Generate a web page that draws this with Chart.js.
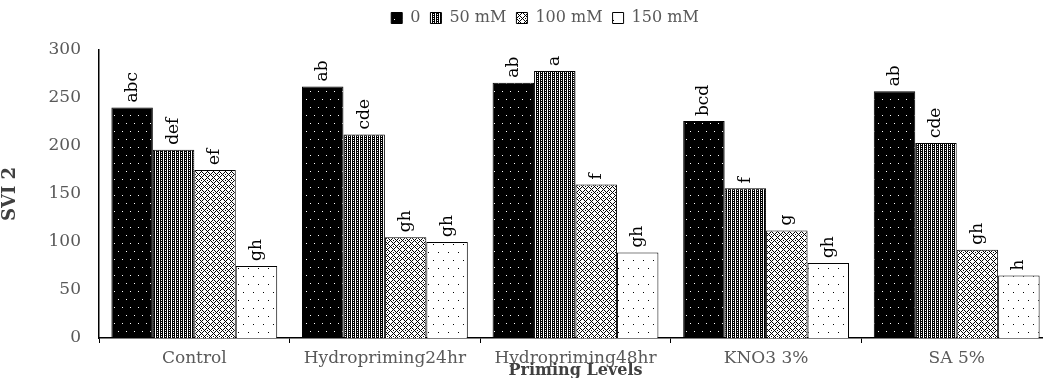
<!DOCTYPE html>
<html>
<head>
<meta charset="utf-8">
<script src="https://cdn.jsdelivr.net/npm/chart.js@4"></script>
<style>
  html, body { margin: 0; padding: 0; background: #fff; }
  #wrap { width: 1043px; height: 378px; overflow: hidden; }
</style>
</head>
<body>
<div id="wrap"><canvas id="c" width="1052" height="378"></canvas></div>
<script>
/// Categories and series
const categories = ["Control", "Hydropriming24hr", "Hydropriming48hr", "KNO3 3%", "SA 5%"];
const seriesNames = ["0", "50 mM", "100 mM", "150 mM"];
const s0   = [240, 262, 266, 226, 257];
const s50  = [196, 212, 278, 156, 203];
const s100 = [175, 105, 160, 112, 92];
const s150 = [75, 100, 89, 78, 65];
/// Significance letters per series
const l0   = ["abc", "ab", "ab", "bcd", "ab"];
const l50  = ["def", "cde", "a", "f", "cde"];
const l100 = ["ef", "gh", "f", "g", "gh"];
const l150 = ["gh", "gh", "gh", "gh", "h"];
const yTicks = [0, 50, 100, 150, 200, 250, 300];

const SERIF = "'DejaVu Serif', 'Liberation Serif', serif";
const GREY = "#595959";

// ── Fill patterns ───────────────────────────────────────────────────

function makePattern(w, h, draw) {
  const c = document.createElement("canvas");
  c.width = w; c.height = h;
  const g = c.getContext("2d");
  draw(g);
  return g.createPattern(c, "repeat");
}

/// Black with white dots
const patDark = makePattern(8, 16, g => {
  g.fillStyle = "#000"; g.fillRect(0, 0, 8, 16);
  g.fillStyle = "#fff";
  g.fillRect(2, 3, 1, 1);
  g.fillRect(6, 11, 1, 1);
});
/// Dense vertical stripes / grid
const patStripe = makePattern(4, 2, g => {
  g.fillStyle = "#fff"; g.fillRect(0, 0, 4, 2);
  g.fillStyle = "#000";
  g.fillRect(0, 0, 1, 2);
  g.fillRect(2, 0, 1, 2);
  g.fillRect(1, 1, 1, 1);
});
/// Crosshatch diamonds
const patCross = makePattern(6, 6, g => {
  g.fillStyle = "#fff"; g.fillRect(0, 0, 6, 6);
  g.fillStyle = "#000";
  g.fillRect(0, 0, 1, 1); g.fillRect(1, 1, 1, 1); g.fillRect(2, 2, 1, 1);
  g.fillRect(3, 3, 1, 1); g.fillRect(4, 2, 1, 1); g.fillRect(5, 1, 1, 1);
  g.fillRect(4, 4, 1, 1); g.fillRect(5, 5, 1, 1); g.fillRect(2, 4, 1, 1); g.fillRect(1, 5, 1, 1);
  g.fillRect(3, 0, 1, 1);
});
/// White with black dots
const patLight = makePattern(10, 16, g => {
  g.fillStyle = "#fff"; g.fillRect(0, 0, 10, 16);
  g.fillStyle = "#000";
  g.fillRect(3, 4, 1, 1);
  g.fillRect(8, 12, 1, 1);
});

function ds(label, data, fill, letters) {
  return {
    label, data, letters,
    backgroundColor: fill,
    borderColor: "#000",
    borderWidth: 1,
    borderSkipped: "bottom",
    categoryPercentage: 0.87,
    barPercentage: 1.0
  };
}

// ── Plugins ─────────────────────────────────────────────────────────

/// Rotated significance letters above each bar
const letterPlugin = {
  id: "letters",
  afterDatasetsDraw(chart) {
    const ctx = chart.ctx;
    ctx.save();
    ctx.font = "17px " + SERIF;
    ctx.fillStyle = "#000";
    ctx.textAlign = "left";
    ctx.textBaseline = "middle";
    chart.data.datasets.forEach((d, di) => {
      chart.getDatasetMeta(di).data.forEach((bar, i) => {
        ctx.save();
        ctx.translate(bar.x, bar.y - 5);
        ctx.rotate(-Math.PI / 2);
        ctx.fillText(d.letters[i], 0, 0);
        ctx.restore();
      });
    });
    ctx.restore();
  }
};

/// Fixed legend height, and nudge the legend right to sit where the original does
const legendFix = {
  id: "legendFix",
  beforeInit(chart) {
    const orig = chart.legend.fit;
    chart.legend.fit = function () {
      orig.call(this);
      this.height = 50;
    };
  },
  afterLayout(chart) {
    chart.legend.left += 19;
    chart.legend.right += 19;
  }
};

new Chart(document.getElementById("c"), {
  type: "bar",
  data: {
    labels: categories,
    datasets: [
      ds(seriesNames[0], s0, patDark, l0),
      ds(seriesNames[1], s50, patStripe, l50),
      ds(seriesNames[2], s100, patCross, l100),
      ds(seriesNames[3], s150, patLight, l150)
    ]
  },
  options: {
    responsive: false,
    animation: false,
    layout: { padding: 0 },
    plugins: {
      legend: {
        position: "top",
        labels: {
          boxWidth: 11, boxHeight: 11, padding: 10,
          color: GREY,
          font: { family: SERIF, size: 16 }
        }
      },
      tooltip: { enabled: false }
    },
    scales: {
      x: {
        grid: { display: true, drawOnChartArea: false, drawTicks: true, tickLength: 5, color: "#000", offset: true },
        border: { display: true, color: "#000", width: 1.5 },
        ticks: { color: GREY, font: { family: SERIF, size: 17 }, padding: 5, maxRotation: 0 },
        title: {
          display: true, text: "Priming Levels", color: "#404040",
          font: { family: SERIF, size: 16, weight: "bold" }, padding: { top: 0, bottom: -2 }
        },
        afterFit(s) { s.height = 40; }
      },
      y: {
        min: 0, max: 300,
        afterBuildTicks(s) { s.ticks = yTicks.map(v => ({ value: v })); },
        grid: { display: false, drawTicks: false },
        border: { display: true, color: "#000", width: 1.5 },
        ticks: { color: GREY, font: { family: SERIF, size: 17 }, padding: 18 },
        title: {
          display: true, text: "SVI 2", color: "#404040",
          font: { family: SERIF, size: 18, weight: "bold" }, padding: { top: 0, bottom: 2 }
        },
        afterFit(s) { s.width = 99; }
      }
    }
  },
  plugins: [letterPlugin, legendFix]
});
</script>
</body>
</html>
